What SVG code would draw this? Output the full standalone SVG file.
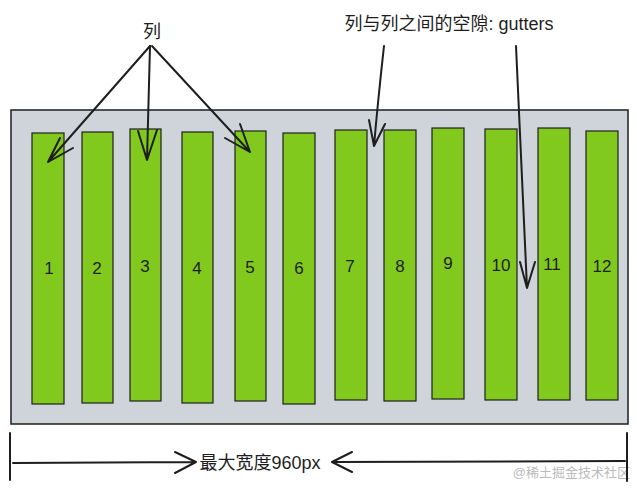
<svg xmlns="http://www.w3.org/2000/svg" width="637" height="495" viewBox="0 0 637 495">
<style>
.col{fill:#82c91e;stroke:#1e1e1e;stroke-width:1.2}
.num{font-family:"Liberation Sans",sans-serif;font-size:17px;fill:#1e1e1e;text-anchor:middle}
.t{font-family:"Liberation Sans","Noto Sans CJK SC",sans-serif;font-size:18px;fill:#1e1e1e;text-anchor:middle}
.ln{fill:none;stroke:#1e1e1e;stroke-width:2;stroke-linecap:round}
</style>
<rect width="637" height="495" fill="#fff"/>
<g id="container"><rect x="11" y="110" width="617" height="314" fill="#ced4da" stroke="#1e1e1e" stroke-width="1.5"/></g>
<g id="c1"><rect class="col" x="32" y="133" width="32" height="271"/><text class="num" x="49" y="274">1</text></g>
<g id="c2"><rect class="col" x="82" y="132" width="31" height="271"/><text class="num" x="97" y="274">2</text></g>
<g id="c3"><rect class="col" x="130" y="129" width="31" height="272"/><text class="num" x="145" y="272">3</text></g>
<g id="c4"><rect class="col" x="182" y="132" width="31" height="271"/><text class="num" x="197" y="274">4</text></g>
<g id="c5"><rect class="col" x="235" y="131" width="31" height="270"/><text class="num" x="250" y="273">5</text></g>
<g id="c6"><rect class="col" x="283" y="133" width="32" height="271"/><text class="num" x="299" y="274">6</text></g>
<g id="c7"><rect class="col" x="335" y="130" width="32" height="270"/><text class="num" x="350" y="272">7</text></g>
<g id="c8"><rect class="col" x="384" y="130" width="32" height="271"/><text class="num" x="400" y="272">8</text></g>
<g id="c9"><rect class="col" x="432" y="128" width="32" height="271"/><text class="num" x="448" y="269">9</text></g>
<g id="c10"><rect class="col" x="485" y="129" width="32" height="271"/><text class="num" x="501" y="271">10</text></g>
<g id="c11"><rect class="col" x="538" y="128" width="32" height="272"/><text class="num" x="552" y="270">11</text></g>
<g id="c12"><rect class="col" x="586" y="131" width="32" height="269"/><text class="num" x="602" y="272">12</text></g>
<g id="labels">
<text class="t" x="152" y="38">列</text>
<text class="t" x="449" y="30">列与列之间的空隙: gutters</text>
<text class="t" x="260" y="469">最大宽度960px</text>
<text x="630" y="477" font-family="Liberation Sans,'Noto Sans CJK SC',sans-serif" font-size="13" fill="#bbb" text-anchor="end">@稀土掘金技术社区</text>
</g>
<g id="connectors">
<path class="ln" d="M150 46 L48 162 M48 162 L60 138 M48 162 L73 148"/>
<path class="ln" d="M150 46 L147 160 M147 160 L138 131 M147 160 L157 130"/>
<path class="ln" d="M152 46 L250 152 M250 152 L240 124 M250 152 L225 138"/>
<path class="ln" d="M384 46 Q378 100 374 146 M374 146 L369 120 M374 146 L385 124" stroke-width="1.5"/>
<path class="ln" d="M516 46 L527 288 M527 288 L520 262 M527 288 L535 262" stroke-width="1.5"/>
<path class="ln" d="M10 433 L10 480 M627 433 L627 481" stroke-width="1.2"/>
<path class="ln" d="M13 463 L196 462 M196 462 L175 452 M196 462 L175 473"/>
<path class="ln" d="M625 461 L332 462 M332 462 L352 452 M332 462 L352 472"/>
</g>
</svg>
